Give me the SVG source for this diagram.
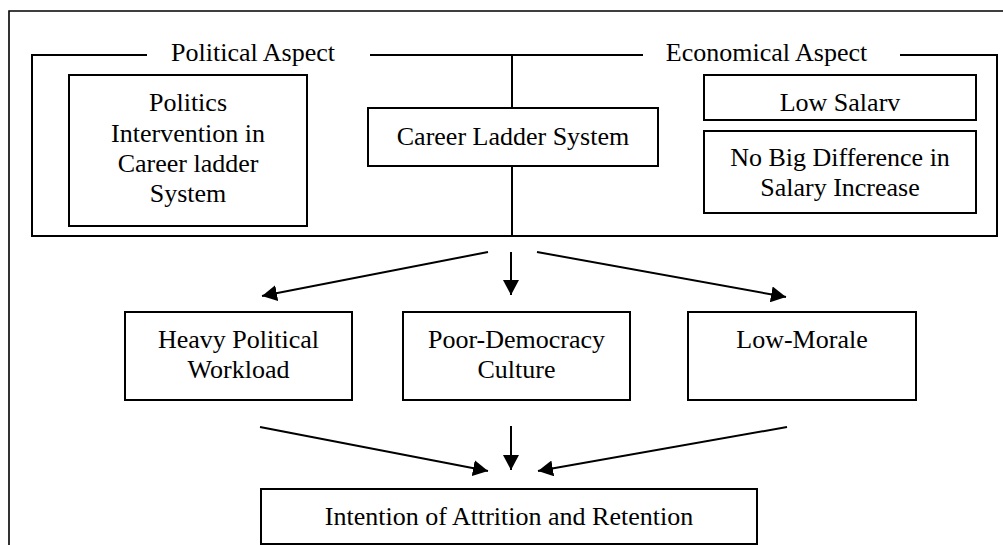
<svg xmlns="http://www.w3.org/2000/svg" width="1003" height="545" viewBox="0 0 1003 545">
<defs>
<style>
.box{fill:#fff;stroke:#000;stroke-width:2}
.ln{fill:none;stroke:#000;stroke-width:2}
.fr{fill:none;stroke:#000;stroke-width:1.6}
.t{font-family:'Liberation Serif', 'Times New Roman', Times, 'DejaVu Serif', serif;font-size:26px;fill:#000;text-anchor:middle}
</style>
<marker id="ah" markerUnits="userSpaceOnUse" markerWidth="16" markerHeight="16" refX="15" refY="8" orient="auto">
<path d="M0,0 L15,8 L0,16 z" fill="#000"/>
</marker>
</defs>
<rect width="1003" height="545" fill="#fff"/>
<g id="outer-frame">
<polyline class="fr" points="9,545 9,11 1003,11"/>
</g>
<g id="aspect-frame">
<polyline class="ln" points="147,55 32,55 32,236 997,236 997,55 900,55"/>
<line class="ln" x1="370" y1="55" x2="643" y2="55"/>
<text class="t" x="253" y="61">Political Aspect</text>
<text class="t" x="766.5" y="61">Economical Aspect</text>
</g>
<g id="connectors">
<line class="ln" x1="512" y1="55" x2="512" y2="108"/>
<line class="ln" x1="512" y1="166" x2="512" y2="236"/>
<line class="ln" x1="488" y1="252" x2="262" y2="296" marker-end="url(#ah)"/>
<line class="ln" x1="511" y1="252" x2="511" y2="295" marker-end="url(#ah)"/>
<line class="ln" x1="537" y1="252" x2="786" y2="297" marker-end="url(#ah)"/>
<line class="ln" x1="260" y1="427" x2="488" y2="471" marker-end="url(#ah)"/>
<line class="ln" x1="511" y1="426" x2="511" y2="470" marker-end="url(#ah)"/>
<line class="ln" x1="787" y1="427" x2="538" y2="471" marker-end="url(#ah)"/>
</g>
<g id="politics-intervention">
<rect class="box" x="69" y="75" width="238" height="151"/>
<text class="t" x="188" y="111">Politics</text>
<text class="t" x="188" y="142">Intervention in</text>
<text class="t" x="188" y="172">Career ladder</text>
<text class="t" x="188" y="202">System</text>
</g>
<g id="career-ladder">
<rect class="box" x="368" y="108" width="290" height="58"/>
<text class="t" x="513" y="145">Career Ladder System</text>
</g>
<g id="low-salary">
<rect class="box" x="704" y="75" width="272" height="45"/>
<text class="t" x="840" y="111">Low Salarv</text>
</g>
<g id="no-big-difference">
<rect class="box" x="704" y="131" width="272" height="82"/>
<text class="t" x="840" y="166">No Big Difference in</text>
<text class="t" x="840" y="196">Salary Increase</text>
</g>
<g id="heavy-workload">
<rect class="box" x="125" y="312" width="227" height="88"/>
<text class="t" x="238.5" y="348">Heavy Political</text>
<text class="t" x="238.5" y="378">Workload</text>
</g>
<g id="poor-democracy">
<rect class="box" x="403" y="312" width="227" height="88"/>
<text class="t" x="516.5" y="348">Poor-Democracy</text>
<text class="t" x="516.5" y="378">Culture</text>
</g>
<g id="low-morale">
<rect class="box" x="688" y="312" width="228" height="88"/>
<text class="t" x="802" y="348">Low-Morale</text>
</g>
<g id="intention">
<rect class="box" x="261" y="489" width="496" height="55"/>
<text class="t" x="509" y="525">Intention of Attrition and Retention</text>
</g>
</svg>
